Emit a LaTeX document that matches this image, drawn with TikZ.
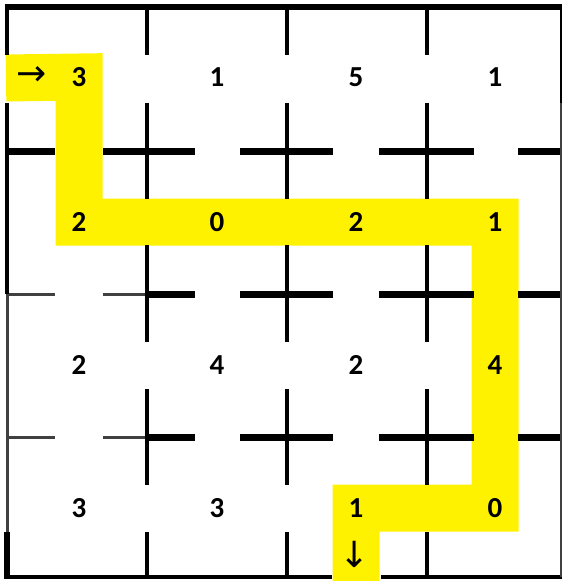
\documentclass[tikz,border=0pt]{standalone}
\usepackage{fontspec}
\setmainfont{Carlito}
\newfontfamily\arrowfont{DejaVu Sans}
\usetikzlibrary{backgrounds}

\begin{document}
\begin{tikzpicture}[
  x=1pt, y=-1pt,
  every node/.style={inner sep=0pt},
  num/.style={font=\fontsize{29}{29}\selectfont\bfseries},
  dir/.style={font=\arrowfont\fontsize{36}{36}\selectfont},
  wallh/.style={draw, line width=7pt},
  wallv/.style={draw, line width=4.5pt},
  faint/.style={draw, line width=3pt, black!75},
  rim/.style={draw, line width=5pt},
  route/.style={draw=yellow, line width=47pt, line join=miter}]

  \useasboundingbox (0,0) rectangle (562,581);

  \node[num] (c00) at (79,77)  {3};
  \node[num] (c01) at (217,77) {1};
  \node[num] (c02) at (356,77) {5};
  \node[num] (c03) at (495,77) {1};
  \node[num] (c10) at (79,222)  {2};
  \node[num] (c11) at (217,222) {0};
  \node[num] (c12) at (356,222) {2};
  \node[num] (c13) at (495,222) {1};
  \node[num] (c20) at (79,365)  {2};
  \node[num] (c21) at (217,365) {4};
  \node[num] (c22) at (356,365) {2};
  \node[num] (c23) at (495,365) {4};
  \node[num] (c30) at (79,508)  {3};
  \node[num] (c31) at (217,508) {3};
  \node[num] (c32) at (356,508) {1};
  \node[num] (c33) at (495,508) {0};

  \node[dir] (enter) at (32,76)  {→};
  \node[dir] (leave) at (355,554) {↓};

  \coordinate (in)  at (6,78);
  \coordinate (out) at (356,581);

  \begin{pgfonlayer}{background}
    \draw[route] (in) -- (c00.center) -- (c10.center) -- (c13.center)
      -- (c33.center) -- (c32.center) -- (out);
  \end{pgfonlayer}

  \foreach \a/\b in {7/55,103/195,240/333,379/474,518/561}
    \draw[wallh] (\a,151) -- (\b,151);
  \foreach \y in {294,437} {
    \foreach \a/\b in {7/55,103/147}
      \draw[faint] (\a,\y) -- (\b,\y);
    \foreach \a/\b in {147/195,240/333,379/474,518/561}
      \draw[wallh] (\a,\y) -- (\b,\y);
  }
  \foreach \x in {147,287,427}
    \foreach \a/\b in {7/55,103/199,245/342,389/485,532/577}
      \draw[wallv] (\x,\a) -- (\x,\b);

  \draw[rim, line width=5.5pt] (4.5,7) -- (562,7);
  \draw[rim, line width=4pt] (7,7) -- (7,55);
  \draw[rim, line width=3.5pt] (7,103) -- (7,294);
  \draw[faint] (7,294) -- (7,532);
  \draw[rim, line width=6pt] (7,532) -- (7,579);
  \draw[rim, line width=4.5pt] (4,577) -- (332,577);
  \draw[rim, line width=4.5pt] (381,577) -- (562,577);
  \draw[rim, line width=2.5pt] (561,7) -- (561,103);
  \draw[faint, line width=2pt] (561,103) -- (561,577);

\end{tikzpicture}
\end{document}
